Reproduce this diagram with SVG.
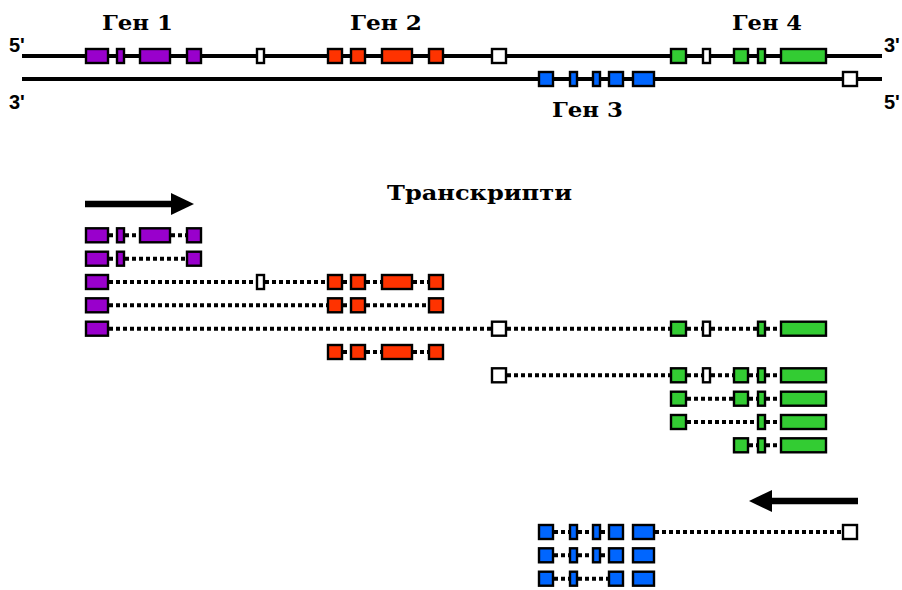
<svg xmlns="http://www.w3.org/2000/svg" width="902" height="590" viewBox="0 0 902 590">
<style>
.strand{stroke:#000;stroke-width:4;fill:none}
.intron{stroke:#000;stroke-width:4;stroke-dasharray:4 3;fill:none}
.ex{stroke:#000;stroke-width:2.4}
.p{fill:#9900CC}.r{fill:#FF3300}.g{fill:#33CC33}.b{fill:#0066FF}.w{fill:#FFFFFF}
.lbl{font-family:"DejaVu Serif","Liberation Serif",serif;font-weight:bold;font-size:20px;fill:#000}
.end{font-family:"Liberation Sans",Arial,sans-serif;font-weight:bold;font-size:20px;fill:#000}
.arrow{stroke:#000;stroke-width:6.5;fill:none}
</style>
<defs>
<symbol id="P1" overflow="visible"><rect class="ex p" x="86" y="-7" width="22" height="14"/></symbol>
<symbol id="P2" overflow="visible"><rect class="ex p" x="117" y="-7" width="7" height="14"/></symbol>
<symbol id="P3" overflow="visible"><rect class="ex p" x="140" y="-7" width="30" height="14"/></symbol>
<symbol id="P4" overflow="visible"><rect class="ex p" x="187" y="-7" width="14" height="14"/></symbol>
<symbol id="W1" overflow="visible"><rect class="ex w" x="257" y="-7" width="7" height="14"/></symbol>
<symbol id="R1" overflow="visible"><rect class="ex r" x="328" y="-7" width="14" height="14"/></symbol>
<symbol id="R2" overflow="visible"><rect class="ex r" x="351" y="-7" width="14" height="14"/></symbol>
<symbol id="R3" overflow="visible"><rect class="ex r" x="382" y="-7" width="30" height="14"/></symbol>
<symbol id="R4" overflow="visible"><rect class="ex r" x="429" y="-7" width="14" height="14"/></symbol>
<symbol id="W2" overflow="visible"><rect class="ex w" x="492" y="-7" width="14" height="14"/></symbol>
<symbol id="G1" overflow="visible"><rect class="ex g" x="671" y="-7" width="15" height="14"/></symbol>
<symbol id="W3" overflow="visible"><rect class="ex w" x="703" y="-7" width="7" height="14"/></symbol>
<symbol id="G2" overflow="visible"><rect class="ex g" x="734" y="-7" width="14" height="14"/></symbol>
<symbol id="G3" overflow="visible"><rect class="ex g" x="758" y="-7" width="7" height="14"/></symbol>
<symbol id="G4" overflow="visible"><rect class="ex g" x="781" y="-7" width="45" height="14"/></symbol>
<symbol id="B1" overflow="visible"><rect class="ex b" x="539" y="-7" width="14" height="14"/></symbol>
<symbol id="B2" overflow="visible"><rect class="ex b" x="570" y="-7" width="7" height="14"/></symbol>
<symbol id="B3" overflow="visible"><rect class="ex b" x="593" y="-7" width="7" height="14"/></symbol>
<symbol id="B4" overflow="visible"><rect class="ex b" x="609" y="-7" width="14" height="14"/></symbol>
<symbol id="B5" overflow="visible"><rect class="ex b" x="633" y="-7" width="21" height="14"/></symbol>
<symbol id="W4" overflow="visible"><rect class="ex w" x="843" y="-7" width="14" height="14"/></symbol>
</defs>

<g id="strands">
<line class="strand" x1="22" y1="56" x2="882" y2="56"/>
<line class="strand" x1="22" y1="79" x2="882" y2="79"/>
<text class="end" x="9" y="52">5'</text>
<text class="end" x="9" y="109">3'</text>
<text class="end" x="884" y="52">3'</text>
<text class="end" x="884" y="109">5'</text>
</g>

<g id="labels">
<text class="lbl" x="102" y="30" textLength="71" lengthAdjust="spacingAndGlyphs">Ген 1</text>
<text class="lbl" x="350" y="30" textLength="72" lengthAdjust="spacingAndGlyphs">Ген 2</text>
<text class="lbl" x="732" y="30" textLength="70" lengthAdjust="spacingAndGlyphs">Ген 4</text>
<text class="lbl" x="552" y="117" textLength="71" lengthAdjust="spacingAndGlyphs">Ген 3</text>
<text class="lbl" x="387" y="200" textLength="185" lengthAdjust="spacingAndGlyphs">Транскрипти</text>
</g>

<g id="arrows">
<line class="arrow" x1="85" y1="204" x2="173" y2="204"/>
<polygon points="171,193 194,204 171,215" fill="#000"/>
<line class="arrow" x1="858" y1="501" x2="770" y2="501"/>
<polygon points="772,490 749,501 772,512" fill="#000"/>
</g>

<g id="connectors">
<path class="intron" d="M109 235.3H116M125 235.3H139M171 235.3H186"/>
<path class="intron" d="M109 258.7H116M125 258.7H186"/>
<path class="intron" d="M109 282H256M265 282H327M343 282H350M366 282H381M413 282H428"/>
<path class="intron" d="M109 305.3H327M343 305.3H350M366 305.3H428"/>
<path class="intron" d="M109 328.7H491M507 328.7H670M687 328.7H702M711 328.7H757M766 328.7H780"/>
<path class="intron" d="M343 352H350M366 352H381M413 352H428"/>
<path class="intron" d="M507 375.3H670M687 375.3H702M711 375.3H733M749 375.3H757M766 375.3H780"/>
<path class="intron" d="M687 398.7H733M749 398.7H757M766 398.7H780"/>
<path class="intron" d="M687 422H757M766 422H780"/>
<path class="intron" d="M749 445.3H757M766 445.3H780"/>
<path class="intron" d="M554 532H569M578 532H592M601 532H608M655 532H842"/>
<path class="intron" d="M554 555.3H569M578 555.3H592M601 555.3H608"/>
<path class="intron" d="M554 578.7H569M578 578.7H608"/>
</g>

<g id="gene1" transform="translate(0,56)"><use href="#P1"/><use href="#P2"/><use href="#P3"/><use href="#P4"/></g>
<g id="utr1" transform="translate(0,56)"><use href="#W1"/></g>
<g id="gene2" transform="translate(0,56)"><use href="#R1"/><use href="#R2"/><use href="#R3"/><use href="#R4"/></g>
<g id="utr2" transform="translate(0,56)"><use href="#W2"/></g>
<g id="gene4" transform="translate(0,56)"><use href="#G1"/><use href="#W3"/><use href="#G2"/><use href="#G3"/><use href="#G4"/></g>
<g id="gene3" transform="translate(0,79)"><use href="#B1"/><use href="#B2"/><use href="#B3"/><use href="#B4"/><use href="#B5"/><use href="#W4"/></g>

<g id="t1" transform="translate(0,235.3)"><use href="#P1"/><use href="#P2"/><use href="#P3"/><use href="#P4"/></g>
<g id="t2" transform="translate(0,258.7)"><use href="#P1"/><use href="#P2"/><use href="#P4"/></g>
<g id="t3" transform="translate(0,282)"><use href="#P1"/><use href="#W1"/><use href="#R1"/><use href="#R2"/><use href="#R3"/><use href="#R4"/></g>
<g id="t4" transform="translate(0,305.3)"><use href="#P1"/><use href="#R1"/><use href="#R2"/><use href="#R4"/></g>
<g id="t5" transform="translate(0,328.7)"><use href="#P1"/><use href="#W2"/><use href="#G1"/><use href="#W3"/><use href="#G3"/><use href="#G4"/></g>
<g id="t6" transform="translate(0,352)"><use href="#R1"/><use href="#R2"/><use href="#R3"/><use href="#R4"/></g>
<g id="t7" transform="translate(0,375.3)"><use href="#W2"/><use href="#G1"/><use href="#W3"/><use href="#G2"/><use href="#G3"/><use href="#G4"/></g>
<g id="t8" transform="translate(0,398.7)"><use href="#G1"/><use href="#G2"/><use href="#G3"/><use href="#G4"/></g>
<g id="t9" transform="translate(0,422)"><use href="#G1"/><use href="#G3"/><use href="#G4"/></g>
<g id="t10" transform="translate(0,445.3)"><use href="#G2"/><use href="#G3"/><use href="#G4"/></g>
<g id="t11" transform="translate(0,532)"><use href="#B1"/><use href="#B2"/><use href="#B3"/><use href="#B4"/><use href="#B5"/><use href="#W4"/></g>
<g id="t12" transform="translate(0,555.3)"><use href="#B1"/><use href="#B2"/><use href="#B3"/><use href="#B4"/><use href="#B5"/></g>
<g id="t13" transform="translate(0,578.7)"><use href="#B1"/><use href="#B2"/><use href="#B4"/><use href="#B5"/></g>
</svg>
